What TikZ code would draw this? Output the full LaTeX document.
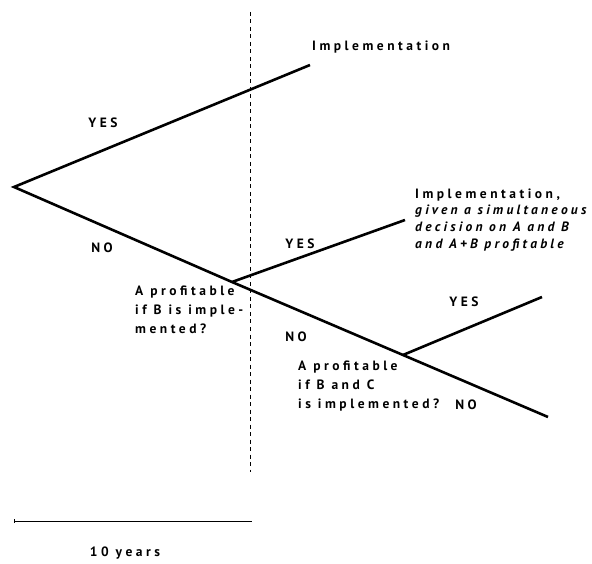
\documentclass[tikz,border=0pt]{standalone}
\usepackage{fontspec}
\usetikzlibrary{calc}
\newfontfamily\lab[LetterSpace=26]{PT Sans}
\newfontfamily\labi[LetterSpace=24]{PT Sans}
\begin{document}
\begin{tikzpicture}[x=1pt,y=-1pt,
  branch/.style={line width=2.6pt},
  lbl/.style={font={\lab\bfseries\fontsize{13.5}{19}\selectfont},inner sep=0pt},
  txt/.style={font={\lab\bfseries\fontsize{13.5}{19}\selectfont},inner sep=0pt,align=left},
  itl/.style={font={\labi\bfseries\itshape\fontsize{13.5}{17}\selectfont},inner sep=0pt,align=left}]
\useasboundingbox (0,0) rectangle (592,564);
% tree points
\coordinate (root) at (14,187);
\coordinate (yesEnd) at (310,65);
\coordinate (n1) at (232,282);
\coordinate (n1yes) at (405,220);
\coordinate (n2) at (403,355);
\coordinate (n2yes) at (542,297);
\coordinate (noEnd) at (548,417);
\coordinate (dtop) at (250,12);
\coordinate (dbot) at (250,472);
\coordinate (sbL) at (14,521);
\coordinate (sbR) at (252,521);
% dashed time line
\draw[line width=0.6pt,dash pattern=on 4pt off 3.5pt] (dtop) -- (dbot);
% branches
\draw[branch] (yesEnd) -- (root) -- (n1) -- (n2) -- (noEnd);
\draw[branch] (n1) -- (n1yes);
\draw[branch] (n2) -- (n2yes);
% scale bar
\draw[line width=0.9pt] (sbL) -- (sbR);
\draw[line width=0.6pt] ($(sbL)+(0,-2)$) -- ($(sbL)+(0,2)$);
% labels
\node[lbl] (yes1) at (103,123) {YES};
\node[lbl] (no1) at (102,248) {NO};
\node[lbl] (yes2) at (300,244) {YES};
\node[lbl] (no2) at (296,337) {NO};
\node[lbl] (yes3) at (464,302) {YES};
\node[lbl] (no3) at (466,405) {NO};
\node[lbl,anchor=west] (impl) at (312,47) {Implementation};
\node[txt,anchor=north west] (impl2) at (415,189) {Implementation,};
\node[itl,anchor=north west] (given) at (415,205) {given a simultaneous\\decision on A and B\\and A+B profitable};
\node[txt,anchor=north west] (q1) at (135,286) {A profitable\\if B is imple-\\mented?};
\node[txt,anchor=north west] (q2) at (298,361) {A profitable\\if B and C\\is implemented?};
\node[lbl] (years) at (125,553) {10 years};
\end{tikzpicture}
\end{document}
